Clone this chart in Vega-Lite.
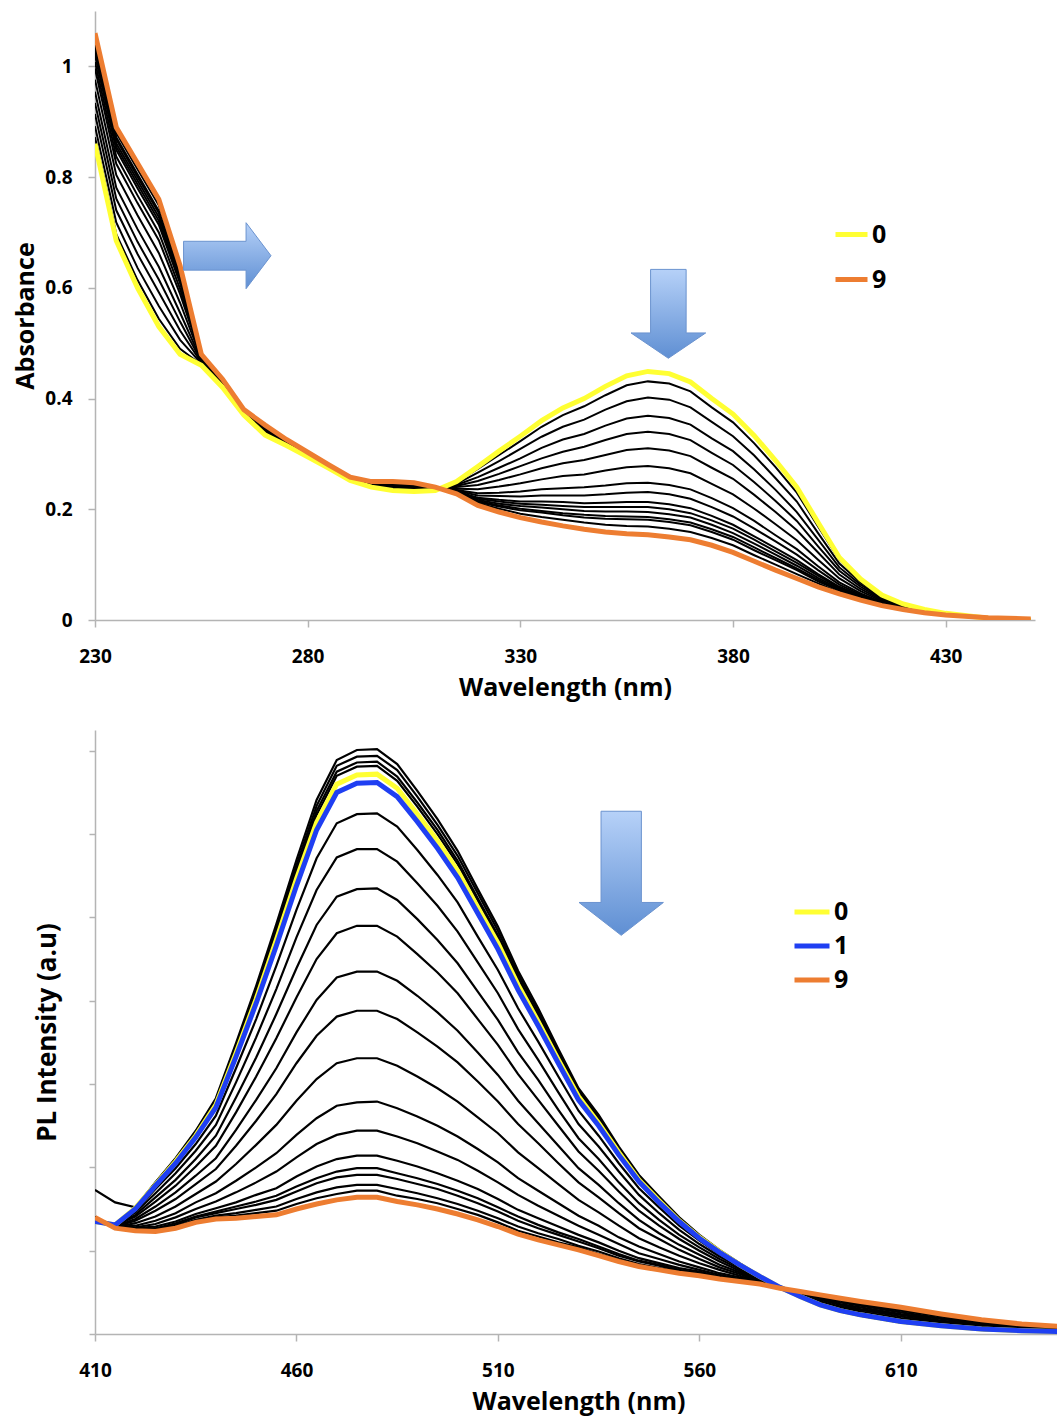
{
"$schema":"https://vega.github.io/schema/vega-lite/v6.json",
"background":"white",
"padding":{"left":13,"top":11,"right":0,"bottom":14},
"spacing":110,
"bounds":"flush",
"resolve":{"scale":{"color":"independent"},"legend":{"color":"independent"}},
"config":{"view":{"stroke":null},"font":"Open Sans",
"axis":{"domainColor":"#b4b4b4","domainWidth":1.5,"tickColor":"#b4b4b4","tickWidth":1.5,"tickSize":7,"grid":false,"labelFont":"Open Sans","labelFontWeight":"bold","labelFontSize":19,"labelColor":"#000","titleFont":"Open Sans","titleFontWeight":"bold","titleFontSize":25,"titleColor":"#000","labelFlush":false},
"legend":{"orient":"none","symbolType":"stroke","symbolStrokeWidth":5,"labelFont":"Open Sans","labelFontWeight":"bold","labelFontSize":25,"labelColor":"#000","labelOffset":2,"padding":0}},
"datasets":{
"tb":[
{"c":1,"w":230,"a":0.872},{"c":2,"w":230,"a":0.892},{"c":3,"w":230,"a":0.914},{"c":4,"w":230,"a":0.934},{"c":5,"w":230,"a":0.954},{"c":6,"w":230,"a":0.976},{"c":7,"w":230,"a":0.996},{"c":8,"w":230,"a":1.008},{"c":9,"w":230,"a":1.02},{"c":10,"w":230,"a":1.026},{"c":11,"w":230,"a":1.032},{"c":12,"w":230,"a":1.038},{"c":13,"w":230,"a":1.042},{"c":14,"w":230,"a":1.05},
{"c":1,"w":235,"a":0.697},{"c":2,"w":235,"a":0.718},{"c":3,"w":235,"a":0.74},{"c":4,"w":235,"a":0.761},{"c":5,"w":235,"a":0.781},{"c":6,"w":235,"a":0.804},{"c":7,"w":235,"a":0.824},{"c":8,"w":235,"a":0.837},{"c":9,"w":235,"a":0.849},{"c":10,"w":235,"a":0.855},{"c":11,"w":235,"a":0.861},{"c":12,"w":235,"a":0.868},{"c":13,"w":235,"a":0.872},{"c":14,"w":235,"a":0.88},
{"c":1,"w":240,"a":0.614},{"c":2,"w":240,"a":0.636},{"c":3,"w":240,"a":0.661},{"c":4,"w":240,"a":0.683},{"c":5,"w":240,"a":0.706},{"c":6,"w":240,"a":0.731},{"c":7,"w":240,"a":0.753},{"c":8,"w":240,"a":0.767},{"c":9,"w":240,"a":0.78},{"c":10,"w":240,"a":0.787},{"c":11,"w":240,"a":0.794},{"c":12,"w":240,"a":0.8},{"c":13,"w":240,"a":0.805},{"c":14,"w":240,"a":0.814},
{"c":1,"w":245,"a":0.544},{"c":2,"w":245,"a":0.567},{"c":3,"w":245,"a":0.592},{"c":4,"w":245,"a":0.615},{"c":5,"w":245,"a":0.638},{"c":6,"w":245,"a":0.663},{"c":7,"w":245,"a":0.686},{"c":8,"w":245,"a":0.7},{"c":9,"w":245,"a":0.714},{"c":10,"w":245,"a":0.721},{"c":11,"w":245,"a":0.728},{"c":12,"w":245,"a":0.735},{"c":13,"w":245,"a":0.739},{"c":14,"w":245,"a":0.749},
{"c":1,"w":250,"a":0.49},{"c":2,"w":250,"a":0.506},{"c":3,"w":250,"a":0.523},{"c":4,"w":250,"a":0.539},{"c":5,"w":250,"a":0.555},{"c":6,"w":250,"a":0.573},{"c":7,"w":250,"a":0.589},{"c":8,"w":250,"a":0.598},{"c":9,"w":250,"a":0.608},{"c":10,"w":250,"a":0.613},{"c":11,"w":250,"a":0.618},{"c":12,"w":250,"a":0.622},{"c":13,"w":250,"a":0.626},{"c":14,"w":250,"a":0.632},
{"c":1,"w":255,"a":0.461},{"c":2,"w":255,"a":0.463},{"c":3,"w":255,"a":0.465},{"c":4,"w":255,"a":0.467},{"c":5,"w":255,"a":0.469},{"c":6,"w":255,"a":0.472},{"c":7,"w":255,"a":0.474},{"c":8,"w":255,"a":0.475},{"c":9,"w":255,"a":0.476},{"c":10,"w":255,"a":0.477},{"c":11,"w":255,"a":0.477},{"c":12,"w":255,"a":0.478},{"c":13,"w":255,"a":0.478},{"c":14,"w":255,"a":0.479},
{"c":1,"w":260,"a":0.421},{"c":2,"w":260,"a":0.422},{"c":3,"w":260,"a":0.424},{"c":4,"w":260,"a":0.426},{"c":5,"w":260,"a":0.427},{"c":6,"w":260,"a":0.429},{"c":7,"w":260,"a":0.43},{"c":8,"w":260,"a":0.431},{"c":9,"w":260,"a":0.432},{"c":10,"w":260,"a":0.432},{"c":11,"w":260,"a":0.433},{"c":12,"w":260,"a":0.433},{"c":13,"w":260,"a":0.434},{"c":14,"w":260,"a":0.434},
{"c":1,"w":265,"a":0.371},{"c":2,"w":265,"a":0.372},{"c":3,"w":265,"a":0.373},{"c":4,"w":265,"a":0.374},{"c":5,"w":265,"a":0.375},{"c":6,"w":265,"a":0.376},{"c":7,"w":265,"a":0.377},{"c":8,"w":265,"a":0.377},{"c":9,"w":265,"a":0.378},{"c":10,"w":265,"a":0.378},{"c":11,"w":265,"a":0.379},{"c":12,"w":265,"a":0.379},{"c":13,"w":265,"a":0.379},{"c":14,"w":265,"a":0.38},
{"c":1,"w":270,"a":0.335},{"c":2,"w":270,"a":0.337},{"c":3,"w":270,"a":0.339},{"c":4,"w":270,"a":0.341},{"c":5,"w":270,"a":0.342},{"c":6,"w":270,"a":0.344},{"c":7,"w":270,"a":0.346},{"c":8,"w":270,"a":0.347},{"c":9,"w":270,"a":0.348},{"c":10,"w":270,"a":0.349},{"c":11,"w":270,"a":0.349},{"c":12,"w":270,"a":0.35},{"c":13,"w":270,"a":0.35},{"c":14,"w":270,"a":0.351},
{"c":1,"w":275,"a":0.316},{"c":2,"w":275,"a":0.317},{"c":3,"w":275,"a":0.318},{"c":4,"w":275,"a":0.319},{"c":5,"w":275,"a":0.32},{"c":6,"w":275,"a":0.321},{"c":7,"w":275,"a":0.322},{"c":8,"w":275,"a":0.323},{"c":9,"w":275,"a":0.324},{"c":10,"w":275,"a":0.324},{"c":11,"w":275,"a":0.324},{"c":12,"w":275,"a":0.325},{"c":13,"w":275,"a":0.325},{"c":14,"w":275,"a":0.325},
{"c":1,"w":280,"a":0.295},{"c":2,"w":280,"a":0.296},{"c":3,"w":280,"a":0.297},{"c":4,"w":280,"a":0.298},{"c":5,"w":280,"a":0.299},{"c":6,"w":280,"a":0.3},{"c":7,"w":280,"a":0.3},{"c":8,"w":280,"a":0.301},{"c":9,"w":280,"a":0.301},{"c":10,"w":280,"a":0.302},{"c":11,"w":280,"a":0.302},{"c":12,"w":280,"a":0.302},{"c":13,"w":280,"a":0.302},{"c":14,"w":280,"a":0.303},
{"c":1,"w":285,"a":0.274},{"c":2,"w":285,"a":0.275},{"c":3,"w":285,"a":0.276},{"c":4,"w":285,"a":0.276},{"c":5,"w":285,"a":0.277},{"c":6,"w":285,"a":0.277},{"c":7,"w":285,"a":0.278},{"c":8,"w":285,"a":0.278},{"c":9,"w":285,"a":0.279},{"c":10,"w":285,"a":0.279},{"c":11,"w":285,"a":0.279},{"c":12,"w":285,"a":0.279},{"c":13,"w":285,"a":0.279},{"c":14,"w":285,"a":0.28},
{"c":1,"w":290,"a":0.252},{"c":2,"w":290,"a":0.253},{"c":3,"w":290,"a":0.254},{"c":4,"w":290,"a":0.254},{"c":5,"w":290,"a":0.255},{"c":6,"w":290,"a":0.255},{"c":7,"w":290,"a":0.256},{"c":8,"w":290,"a":0.256},{"c":9,"w":290,"a":0.257},{"c":10,"w":290,"a":0.257},{"c":11,"w":290,"a":0.257},{"c":12,"w":290,"a":0.257},{"c":13,"w":290,"a":0.257},{"c":14,"w":290,"a":0.258},
{"c":1,"w":295,"a":0.241},{"c":2,"w":295,"a":0.242},{"c":3,"w":295,"a":0.243},{"c":4,"w":295,"a":0.244},{"c":5,"w":295,"a":0.245},{"c":6,"w":295,"a":0.246},{"c":7,"w":295,"a":0.247},{"c":8,"w":295,"a":0.247},{"c":9,"w":295,"a":0.248},{"c":10,"w":295,"a":0.248},{"c":11,"w":295,"a":0.249},{"c":12,"w":295,"a":0.249},{"c":13,"w":295,"a":0.249},{"c":14,"w":295,"a":0.25},
{"c":1,"w":300,"a":0.235},{"c":2,"w":300,"a":0.237},{"c":3,"w":300,"a":0.238},{"c":4,"w":300,"a":0.24},{"c":5,"w":300,"a":0.242},{"c":6,"w":300,"a":0.243},{"c":7,"w":300,"a":0.245},{"c":8,"w":300,"a":0.246},{"c":9,"w":300,"a":0.247},{"c":10,"w":300,"a":0.247},{"c":11,"w":300,"a":0.248},{"c":12,"w":300,"a":0.248},{"c":13,"w":300,"a":0.249},{"c":14,"w":300,"a":0.249},
{"c":1,"w":305,"a":0.233},{"c":2,"w":305,"a":0.235},{"c":3,"w":305,"a":0.236},{"c":4,"w":305,"a":0.238},{"c":5,"w":305,"a":0.24},{"c":6,"w":305,"a":0.241},{"c":7,"w":305,"a":0.243},{"c":8,"w":305,"a":0.244},{"c":9,"w":305,"a":0.245},{"c":10,"w":305,"a":0.245},{"c":11,"w":305,"a":0.246},{"c":12,"w":305,"a":0.246},{"c":13,"w":305,"a":0.247},{"c":14,"w":305,"a":0.247},
{"c":1,"w":310,"a":0.234},{"c":2,"w":310,"a":0.235},{"c":3,"w":310,"a":0.236},{"c":4,"w":310,"a":0.236},{"c":5,"w":310,"a":0.237},{"c":6,"w":310,"a":0.237},{"c":7,"w":310,"a":0.238},{"c":8,"w":310,"a":0.238},{"c":9,"w":310,"a":0.239},{"c":10,"w":310,"a":0.239},{"c":11,"w":310,"a":0.239},{"c":12,"w":310,"a":0.239},{"c":13,"w":310,"a":0.239},{"c":14,"w":310,"a":0.24},
{"c":1,"w":315,"a":0.249},{"c":2,"w":315,"a":0.246},{"c":3,"w":315,"a":0.244},{"c":4,"w":315,"a":0.242},{"c":5,"w":315,"a":0.24},{"c":6,"w":315,"a":0.237},{"c":7,"w":315,"a":0.235},{"c":8,"w":315,"a":0.234},{"c":9,"w":315,"a":0.232},{"c":10,"w":315,"a":0.232},{"c":11,"w":315,"a":0.231},{"c":12,"w":315,"a":0.23},{"c":13,"w":315,"a":0.23},{"c":14,"w":315,"a":0.229},
{"c":1,"w":320,"a":0.273},{"c":2,"w":320,"a":0.266},{"c":3,"w":320,"a":0.258},{"c":4,"w":320,"a":0.251},{"c":5,"w":320,"a":0.244},{"c":6,"w":320,"a":0.236},{"c":7,"w":320,"a":0.229},{"c":8,"w":320,"a":0.225},{"c":9,"w":320,"a":0.221},{"c":10,"w":320,"a":0.219},{"c":11,"w":320,"a":0.217},{"c":12,"w":320,"a":0.215},{"c":13,"w":320,"a":0.213},{"c":14,"w":320,"a":0.211},
{"c":1,"w":325,"a":0.298},{"c":2,"w":325,"a":0.287},{"c":3,"w":325,"a":0.275},{"c":4,"w":325,"a":0.264},{"c":5,"w":325,"a":0.253},{"c":6,"w":325,"a":0.241},{"c":7,"w":325,"a":0.23},{"c":8,"w":325,"a":0.224},{"c":9,"w":325,"a":0.217},{"c":10,"w":325,"a":0.214},{"c":11,"w":325,"a":0.21},{"c":12,"w":325,"a":0.207},{"c":13,"w":325,"a":0.205},{"c":14,"w":325,"a":0.201},
{"c":1,"w":330,"a":0.323},{"c":2,"w":330,"a":0.309},{"c":3,"w":330,"a":0.292},{"c":4,"w":330,"a":0.278},{"c":5,"w":330,"a":0.263},{"c":6,"w":330,"a":0.247},{"c":7,"w":330,"a":0.232},{"c":8,"w":330,"a":0.223},{"c":9,"w":330,"a":0.214},{"c":10,"w":330,"a":0.21},{"c":11,"w":330,"a":0.206},{"c":12,"w":330,"a":0.201},{"c":13,"w":330,"a":0.198},{"c":14,"w":330,"a":0.192},
{"c":1,"w":335,"a":0.349},{"c":2,"w":335,"a":0.331},{"c":3,"w":335,"a":0.311},{"c":4,"w":335,"a":0.292},{"c":5,"w":335,"a":0.274},{"c":6,"w":335,"a":0.254},{"c":7,"w":335,"a":0.236},{"c":8,"w":335,"a":0.225},{"c":9,"w":335,"a":0.214},{"c":10,"w":335,"a":0.208},{"c":11,"w":335,"a":0.203},{"c":12,"w":335,"a":0.197},{"c":13,"w":335,"a":0.194},{"c":14,"w":335,"a":0.186},
{"c":1,"w":340,"a":0.37},{"c":2,"w":340,"a":0.349},{"c":3,"w":340,"a":0.326},{"c":4,"w":340,"a":0.304},{"c":5,"w":340,"a":0.283},{"c":6,"w":340,"a":0.26},{"c":7,"w":340,"a":0.238},{"c":8,"w":340,"a":0.225},{"c":9,"w":340,"a":0.213},{"c":10,"w":340,"a":0.206},{"c":11,"w":340,"a":0.2},{"c":12,"w":340,"a":0.193},{"c":13,"w":340,"a":0.189},{"c":14,"w":340,"a":0.181},
{"c":1,"w":345,"a":0.386},{"c":2,"w":345,"a":0.362},{"c":3,"w":345,"a":0.336},{"c":4,"w":345,"a":0.313},{"c":5,"w":345,"a":0.289},{"c":6,"w":345,"a":0.263},{"c":7,"w":345,"a":0.24},{"c":8,"w":345,"a":0.225},{"c":9,"w":345,"a":0.211},{"c":10,"w":345,"a":0.204},{"c":11,"w":345,"a":0.197},{"c":12,"w":345,"a":0.19},{"c":13,"w":345,"a":0.185},{"c":14,"w":345,"a":0.176},
{"c":1,"w":350,"a":0.406},{"c":2,"w":350,"a":0.38},{"c":3,"w":350,"a":0.351},{"c":4,"w":350,"a":0.325},{"c":5,"w":350,"a":0.298},{"c":6,"w":350,"a":0.27},{"c":7,"w":350,"a":0.243},{"c":8,"w":350,"a":0.227},{"c":9,"w":350,"a":0.212},{"c":10,"w":350,"a":0.204},{"c":11,"w":350,"a":0.196},{"c":12,"w":350,"a":0.188},{"c":13,"w":350,"a":0.183},{"c":14,"w":350,"a":0.172},
{"c":1,"w":355,"a":0.424},{"c":2,"w":355,"a":0.395},{"c":3,"w":355,"a":0.364},{"c":4,"w":355,"a":0.336},{"c":5,"w":355,"a":0.307},{"c":6,"w":355,"a":0.276},{"c":7,"w":355,"a":0.247},{"c":8,"w":355,"a":0.23},{"c":9,"w":355,"a":0.213},{"c":10,"w":355,"a":0.204},{"c":11,"w":355,"a":0.196},{"c":12,"w":355,"a":0.187},{"c":13,"w":355,"a":0.182},{"c":14,"w":355,"a":0.17},
{"c":1,"w":360,"a":0.431},{"c":2,"w":360,"a":0.402},{"c":3,"w":360,"a":0.369},{"c":4,"w":360,"a":0.34},{"c":5,"w":360,"a":0.31},{"c":6,"w":360,"a":0.278},{"c":7,"w":360,"a":0.248},{"c":8,"w":360,"a":0.231},{"c":9,"w":360,"a":0.213},{"c":10,"w":360,"a":0.204},{"c":11,"w":360,"a":0.195},{"c":12,"w":360,"a":0.186},{"c":13,"w":360,"a":0.181},{"c":14,"w":360,"a":0.169},
{"c":1,"w":365,"a":0.427},{"c":2,"w":365,"a":0.398},{"c":3,"w":365,"a":0.365},{"c":4,"w":365,"a":0.336},{"c":5,"w":365,"a":0.306},{"c":6,"w":365,"a":0.274},{"c":7,"w":365,"a":0.244},{"c":8,"w":365,"a":0.227},{"c":9,"w":365,"a":0.209},{"c":10,"w":365,"a":0.2},{"c":11,"w":365,"a":0.191},{"c":12,"w":365,"a":0.182},{"c":13,"w":365,"a":0.177},{"c":14,"w":365,"a":0.165},
{"c":1,"w":370,"a":0.413},{"c":2,"w":370,"a":0.384},{"c":3,"w":370,"a":0.353},{"c":4,"w":370,"a":0.325},{"c":5,"w":370,"a":0.296},{"c":6,"w":370,"a":0.265},{"c":7,"w":370,"a":0.236},{"c":8,"w":370,"a":0.219},{"c":9,"w":370,"a":0.202},{"c":10,"w":370,"a":0.193},{"c":11,"w":370,"a":0.185},{"c":12,"w":370,"a":0.176},{"c":13,"w":370,"a":0.171},{"c":14,"w":370,"a":0.159},
{"c":1,"w":375,"a":0.384},{"c":2,"w":375,"a":0.358},{"c":3,"w":375,"a":0.328},{"c":4,"w":375,"a":0.302},{"c":5,"w":375,"a":0.275},{"c":6,"w":375,"a":0.246},{"c":7,"w":375,"a":0.22},{"c":8,"w":375,"a":0.204},{"c":9,"w":375,"a":0.188},{"c":10,"w":375,"a":0.18},{"c":11,"w":375,"a":0.172},{"c":12,"w":375,"a":0.164},{"c":13,"w":375,"a":0.159},{"c":14,"w":375,"a":0.148},
{"c":1,"w":380,"a":0.357},{"c":2,"w":380,"a":0.332},{"c":3,"w":380,"a":0.305},{"c":4,"w":380,"a":0.28},{"c":5,"w":380,"a":0.255},{"c":6,"w":380,"a":0.227},{"c":7,"w":380,"a":0.202},{"c":8,"w":380,"a":0.187},{"c":9,"w":380,"a":0.172},{"c":10,"w":380,"a":0.165},{"c":11,"w":380,"a":0.157},{"c":12,"w":380,"a":0.15},{"c":13,"w":380,"a":0.145},{"c":14,"w":380,"a":0.135},
{"c":1,"w":385,"a":0.319},{"c":2,"w":385,"a":0.297},{"c":3,"w":385,"a":0.272},{"c":4,"w":385,"a":0.249},{"c":5,"w":385,"a":0.226},{"c":6,"w":385,"a":0.201},{"c":7,"w":385,"a":0.179},{"c":8,"w":385,"a":0.165},{"c":9,"w":385,"a":0.151},{"c":10,"w":385,"a":0.145},{"c":11,"w":385,"a":0.138},{"c":12,"w":385,"a":0.131},{"c":13,"w":385,"a":0.126},{"c":14,"w":385,"a":0.117},
{"c":1,"w":390,"a":0.276},{"c":2,"w":390,"a":0.256},{"c":3,"w":390,"a":0.235},{"c":4,"w":390,"a":0.215},{"c":5,"w":390,"a":0.195},{"c":6,"w":390,"a":0.173},{"c":7,"w":390,"a":0.153},{"c":8,"w":390,"a":0.142},{"c":9,"w":390,"a":0.13},{"c":10,"w":390,"a":0.124},{"c":11,"w":390,"a":0.118},{"c":12,"w":390,"a":0.112},{"c":13,"w":390,"a":0.108},{"c":14,"w":390,"a":0.1},
{"c":1,"w":395,"a":0.23},{"c":2,"w":395,"a":0.214},{"c":3,"w":395,"a":0.195},{"c":4,"w":395,"a":0.179},{"c":5,"w":395,"a":0.162},{"c":6,"w":395,"a":0.144},{"c":7,"w":395,"a":0.128},{"c":8,"w":395,"a":0.118},{"c":9,"w":395,"a":0.108},{"c":10,"w":395,"a":0.103},{"c":11,"w":395,"a":0.098},{"c":12,"w":395,"a":0.093},{"c":13,"w":395,"a":0.09},{"c":14,"w":395,"a":0.083},
{"c":1,"w":400,"a":0.169},{"c":2,"w":400,"a":0.157},{"c":3,"w":400,"a":0.145},{"c":4,"w":400,"a":0.133},{"c":5,"w":400,"a":0.122},{"c":6,"w":400,"a":0.109},{"c":7,"w":400,"a":0.097},{"c":8,"w":400,"a":0.09},{"c":9,"w":400,"a":0.083},{"c":10,"w":400,"a":0.08},{"c":11,"w":400,"a":0.076},{"c":12,"w":400,"a":0.073},{"c":13,"w":400,"a":0.07},{"c":14,"w":400,"a":0.066},
{"c":1,"w":405,"a":0.109},{"c":2,"w":405,"a":0.102},{"c":3,"w":405,"a":0.095},{"c":4,"w":405,"a":0.089},{"c":5,"w":405,"a":0.082},{"c":6,"w":405,"a":0.075},{"c":7,"w":405,"a":0.068},{"c":8,"w":405,"a":0.064},{"c":9,"w":405,"a":0.06},{"c":10,"w":405,"a":0.058},{"c":11,"w":405,"a":0.056},{"c":12,"w":405,"a":0.054},{"c":13,"w":405,"a":0.053},{"c":14,"w":405,"a":0.05},
{"c":1,"w":410,"a":0.072},{"c":2,"w":410,"a":0.068},{"c":3,"w":410,"a":0.064},{"c":4,"w":410,"a":0.06},{"c":5,"w":410,"a":0.056},{"c":6,"w":410,"a":0.052},{"c":7,"w":410,"a":0.048},{"c":8,"w":410,"a":0.046},{"c":9,"w":410,"a":0.044},{"c":10,"w":410,"a":0.043},{"c":11,"w":410,"a":0.041},{"c":12,"w":410,"a":0.04},{"c":13,"w":410,"a":0.039},{"c":14,"w":410,"a":0.038},
{"c":1,"w":415,"a":0.044},{"c":2,"w":415,"a":0.042},{"c":3,"w":415,"a":0.04},{"c":4,"w":415,"a":0.038},{"c":5,"w":415,"a":0.036},{"c":6,"w":415,"a":0.034},{"c":7,"w":415,"a":0.032},{"c":8,"w":415,"a":0.031},{"c":9,"w":415,"a":0.03},{"c":10,"w":415,"a":0.029},{"c":11,"w":415,"a":0.029},{"c":12,"w":415,"a":0.028},{"c":13,"w":415,"a":0.028},{"c":14,"w":415,"a":0.027},
{"c":1,"w":420,"a":0.028},{"c":2,"w":420,"a":0.027},{"c":3,"w":420,"a":0.026},{"c":4,"w":420,"a":0.025},{"c":5,"w":420,"a":0.024},{"c":6,"w":420,"a":0.023},{"c":7,"w":420,"a":0.022},{"c":8,"w":420,"a":0.022},{"c":9,"w":420,"a":0.021},{"c":10,"w":420,"a":0.021},{"c":11,"w":420,"a":0.02},{"c":12,"w":420,"a":0.02},{"c":13,"w":420,"a":0.02},{"c":14,"w":420,"a":0.02},
{"c":1,"w":425,"a":0.019},{"c":2,"w":425,"a":0.018},{"c":3,"w":425,"a":0.017},{"c":4,"w":425,"a":0.017},{"c":5,"w":425,"a":0.016},{"c":6,"w":425,"a":0.016},{"c":7,"w":425,"a":0.015},{"c":8,"w":425,"a":0.015},{"c":9,"w":425,"a":0.014},{"c":10,"w":425,"a":0.014},{"c":11,"w":425,"a":0.014},{"c":12,"w":425,"a":0.014},{"c":13,"w":425,"a":0.014},{"c":14,"w":425,"a":0.013},
{"c":1,"w":430,"a":0.012},{"c":2,"w":430,"a":0.012},{"c":3,"w":430,"a":0.011},{"c":4,"w":430,"a":0.011},{"c":5,"w":430,"a":0.011},{"c":6,"w":430,"a":0.01},{"c":7,"w":430,"a":0.01},{"c":8,"w":430,"a":0.01},{"c":9,"w":430,"a":0.01},{"c":10,"w":430,"a":0.01},{"c":11,"w":430,"a":0.009},{"c":12,"w":430,"a":0.009},{"c":13,"w":430,"a":0.009},{"c":14,"w":430,"a":0.009},
{"c":1,"w":440,"a":0.003},{"c":2,"w":440,"a":0.003},{"c":3,"w":440,"a":0.003},{"c":4,"w":440,"a":0.003},{"c":5,"w":440,"a":0.003},{"c":6,"w":440,"a":0.004},{"c":7,"w":440,"a":0.004},{"c":8,"w":440,"a":0.004},{"c":9,"w":440,"a":0.004},{"c":10,"w":440,"a":0.004},{"c":11,"w":440,"a":0.004},{"c":12,"w":440,"a":0.004},{"c":13,"w":440,"a":0.004},{"c":14,"w":440,"a":0.004},
{"c":1,"w":450,"a":0},{"c":2,"w":450,"a":0},{"c":3,"w":450,"a":0.001},{"c":4,"w":450,"a":0.001},{"c":5,"w":450,"a":0.001},{"c":6,"w":450,"a":0.001},{"c":7,"w":450,"a":0.001},{"c":8,"w":450,"a":0.001},{"c":9,"w":450,"a":0.002},{"c":10,"w":450,"a":0.002},{"c":11,"w":450,"a":0.002},{"c":12,"w":450,"a":0.002},{"c":13,"w":450,"a":0.002},{"c":14,"w":450,"a":0.002}
],
"tc":[
{"c":"0","w":230,"a":0.86},{"c":"0","w":235,"a":0.685},{"c":"0","w":240,"a":0.6},{"c":"0","w":245,"a":0.53},{"c":"0","w":250,"a":0.48},{"c":"0","w":255,"a":0.46},{"c":"0","w":260,"a":0.42},{"c":"0","w":265,"a":0.37},{"c":"0","w":270,"a":0.334},{"c":"0","w":275,"a":0.315},{"c":"0","w":280,"a":0.295},{"c":"0","w":285,"a":0.274},{"c":"0","w":290,"a":0.252},{"c":"0","w":295,"a":0.24},{"c":"0","w":300,"a":0.234},{"c":"0","w":305,"a":0.232},{"c":"0","w":310,"a":0.234},{"c":"0","w":315,"a":0.25},{"c":"0","w":320,"a":0.277},{"c":"0","w":325,"a":0.305},{"c":"0","w":330,"a":0.332},{"c":"0","w":335,"a":0.36},{"c":"0","w":340,"a":0.383},{"c":"0","w":345,"a":0.4},{"c":"0","w":350,"a":0.422},{"c":"0","w":355,"a":0.441},{"c":"0","w":360,"a":0.449},{"c":"0","w":365,"a":0.445},{"c":"0","w":370,"a":0.43},{"c":"0","w":375,"a":0.4},{"c":"0","w":380,"a":0.372},{"c":"0","w":385,"a":0.333},{"c":"0","w":390,"a":0.288},{"c":"0","w":395,"a":0.24},{"c":"0","w":400,"a":0.176},{"c":"0","w":405,"a":0.113},{"c":"0","w":410,"a":0.074},{"c":"0","w":415,"a":0.045},{"c":"0","w":420,"a":0.029},{"c":"0","w":425,"a":0.019},{"c":"0","w":430,"a":0.012},{"c":"0","w":440,"a":0.003},{"c":"0","w":450,"a":0},
{"c":"9","w":230,"a":1.06},{"c":"9","w":235,"a":0.89},{"c":"9","w":240,"a":0.825},{"c":"9","w":245,"a":0.76},{"c":"9","w":250,"a":0.64},{"c":"9","w":255,"a":0.48},{"c":"9","w":260,"a":0.435},{"c":"9","w":265,"a":0.38},{"c":"9","w":270,"a":0.352},{"c":"9","w":275,"a":0.326},{"c":"9","w":280,"a":0.303},{"c":"9","w":285,"a":0.28},{"c":"9","w":290,"a":0.258},{"c":"9","w":295,"a":0.25},{"c":"9","w":300,"a":0.25},{"c":"9","w":305,"a":0.248},{"c":"9","w":310,"a":0.24},{"c":"9","w":315,"a":0.228},{"c":"9","w":320,"a":0.207},{"c":"9","w":325,"a":0.195},{"c":"9","w":330,"a":0.185},{"c":"9","w":335,"a":0.177},{"c":"9","w":340,"a":0.17},{"c":"9","w":345,"a":0.164},{"c":"9","w":350,"a":0.159},{"c":"9","w":355,"a":0.156},{"c":"9","w":360,"a":0.154},{"c":"9","w":365,"a":0.15},{"c":"9","w":370,"a":0.145},{"c":"9","w":375,"a":0.135},{"c":"9","w":380,"a":0.122},{"c":"9","w":385,"a":0.106},{"c":"9","w":390,"a":0.09},{"c":"9","w":395,"a":0.075},{"c":"9","w":400,"a":0.06},{"c":"9","w":405,"a":0.047},{"c":"9","w":410,"a":0.036},{"c":"9","w":415,"a":0.026},{"c":"9","w":420,"a":0.019},{"c":"9","w":425,"a":0.013},{"c":"9","w":430,"a":0.009},{"c":"9","w":440,"a":0.004},{"c":"9","w":450,"a":0.002}
],
"bb":[
{"c":1,"w":410,"i":173},{"c":2,"w":410,"i":135},{"c":3,"w":410,"i":135},{"c":4,"w":410,"i":135},{"c":5,"w":410,"i":135},{"c":6,"w":410,"i":136},{"c":7,"w":410,"i":136},{"c":8,"w":410,"i":137},{"c":9,"w":410,"i":137},{"c":10,"w":410,"i":138},{"c":11,"w":410,"i":138},{"c":12,"w":410,"i":139},{"c":13,"w":410,"i":139},{"c":14,"w":410,"i":140},{"c":15,"w":410,"i":140},{"c":16,"w":410,"i":140},{"c":17,"w":410,"i":140},{"c":18,"w":410,"i":140},
{"c":1,"w":415,"i":158},{"c":2,"w":415,"i":131},{"c":3,"w":415,"i":131},{"c":4,"w":415,"i":131},{"c":5,"w":415,"i":131},{"c":6,"w":415,"i":130},{"c":7,"w":415,"i":130},{"c":8,"w":415,"i":130},{"c":9,"w":415,"i":129},{"c":10,"w":415,"i":129},{"c":11,"w":415,"i":128},{"c":12,"w":415,"i":128},{"c":13,"w":415,"i":128},{"c":14,"w":415,"i":127},{"c":15,"w":415,"i":127},{"c":16,"w":415,"i":127},{"c":17,"w":415,"i":127},{"c":18,"w":415,"i":127},
{"c":1,"w":420,"i":152},{"c":2,"w":420,"i":152},{"c":3,"w":420,"i":151},{"c":4,"w":420,"i":151},{"c":5,"w":420,"i":148},{"c":6,"w":420,"i":146},{"c":7,"w":420,"i":143},{"c":8,"w":420,"i":141},{"c":9,"w":420,"i":138},{"c":10,"w":420,"i":136},{"c":11,"w":420,"i":133},{"c":12,"w":420,"i":130},{"c":13,"w":420,"i":128},{"c":14,"w":420,"i":127},{"c":15,"w":420,"i":126},{"c":16,"w":420,"i":125},{"c":17,"w":420,"i":125},{"c":18,"w":420,"i":124},
{"c":1,"w":425,"i":182},{"c":2,"w":425,"i":182},{"c":3,"w":425,"i":181},{"c":4,"w":425,"i":180},{"c":5,"w":425,"i":174},{"c":6,"w":425,"i":169},{"c":7,"w":425,"i":164},{"c":8,"w":425,"i":159},{"c":9,"w":425,"i":153},{"c":10,"w":425,"i":148},{"c":11,"w":425,"i":141},{"c":12,"w":425,"i":136},{"c":13,"w":425,"i":132},{"c":14,"w":425,"i":129},{"c":15,"w":425,"i":127},{"c":16,"w":425,"i":126},{"c":17,"w":425,"i":125},{"c":18,"w":425,"i":124},
{"c":1,"w":430,"i":211},{"c":2,"w":430,"i":210},{"c":3,"w":430,"i":209},{"c":4,"w":430,"i":208},{"c":5,"w":430,"i":199},{"c":6,"w":430,"i":193},{"c":7,"w":430,"i":185},{"c":8,"w":430,"i":178},{"c":9,"w":430,"i":170},{"c":10,"w":430,"i":162},{"c":11,"w":430,"i":153},{"c":12,"w":430,"i":145},{"c":13,"w":430,"i":140},{"c":14,"w":430,"i":135},{"c":15,"w":430,"i":133},{"c":16,"w":430,"i":131},{"c":17,"w":430,"i":129},{"c":18,"w":430,"i":128},
{"c":1,"w":435,"i":244},{"c":2,"w":435,"i":243},{"c":3,"w":435,"i":241},{"c":4,"w":435,"i":240},{"c":5,"w":435,"i":228},{"c":6,"w":435,"i":220},{"c":7,"w":435,"i":210},{"c":8,"w":435,"i":201},{"c":9,"w":435,"i":190},{"c":10,"w":435,"i":180},{"c":11,"w":435,"i":168},{"c":12,"w":435,"i":158},{"c":13,"w":435,"i":150},{"c":14,"w":435,"i":144},{"c":15,"w":435,"i":141},{"c":16,"w":435,"i":140},{"c":17,"w":435,"i":137},{"c":18,"w":435,"i":136},
{"c":1,"w":440,"i":283},{"c":2,"w":440,"i":281},{"c":3,"w":440,"i":279},{"c":4,"w":440,"i":277},{"c":5,"w":440,"i":262},{"c":6,"w":440,"i":251},{"c":7,"w":440,"i":238},{"c":8,"w":440,"i":226},{"c":9,"w":440,"i":211},{"c":10,"w":440,"i":198},{"c":11,"w":440,"i":183},{"c":12,"w":440,"i":169},{"c":13,"w":440,"i":159},{"c":14,"w":440,"i":151},{"c":15,"w":440,"i":147},{"c":16,"w":440,"i":145},{"c":17,"w":440,"i":142},{"c":18,"w":440,"i":140},
{"c":1,"w":445,"i":349},{"c":2,"w":445,"i":346},{"c":3,"w":445,"i":343},{"c":4,"w":445,"i":341},{"c":5,"w":445,"i":319},{"c":6,"w":445,"i":302},{"c":7,"w":445,"i":284},{"c":8,"w":445,"i":266},{"c":9,"w":445,"i":245},{"c":10,"w":445,"i":226},{"c":11,"w":445,"i":204},{"c":12,"w":445,"i":184},{"c":13,"w":445,"i":170},{"c":14,"w":445,"i":158},{"c":15,"w":445,"i":153},{"c":16,"w":445,"i":150},{"c":17,"w":445,"i":145},{"c":18,"w":445,"i":142},
{"c":1,"w":450,"i":418},{"c":2,"w":450,"i":414},{"c":3,"w":450,"i":410},{"c":4,"w":450,"i":407},{"c":5,"w":450,"i":378},{"c":6,"w":450,"i":356},{"c":7,"w":450,"i":332},{"c":8,"w":450,"i":309},{"c":9,"w":450,"i":281},{"c":10,"w":450,"i":256},{"c":11,"w":450,"i":227},{"c":12,"w":450,"i":200},{"c":13,"w":450,"i":182},{"c":14,"w":450,"i":167},{"c":15,"w":450,"i":159},{"c":16,"w":450,"i":155},{"c":17,"w":450,"i":149},{"c":18,"w":450,"i":145},
{"c":1,"w":455,"i":492},{"c":2,"w":455,"i":487},{"c":3,"w":455,"i":482},{"c":4,"w":455,"i":479},{"c":5,"w":455,"i":442},{"c":6,"w":455,"i":414},{"c":7,"w":455,"i":384},{"c":8,"w":455,"i":355},{"c":9,"w":455,"i":319},{"c":10,"w":455,"i":288},{"c":11,"w":455,"i":251},{"c":12,"w":455,"i":217},{"c":13,"w":455,"i":195},{"c":14,"w":455,"i":175},{"c":15,"w":455,"i":166},{"c":16,"w":455,"i":161},{"c":17,"w":455,"i":153},{"c":18,"w":455,"i":148},
{"c":1,"w":460,"i":569},{"c":2,"w":460,"i":563},{"c":3,"w":460,"i":557},{"c":4,"w":460,"i":554},{"c":5,"w":460,"i":509},{"c":6,"w":460,"i":476},{"c":7,"w":460,"i":439},{"c":8,"w":460,"i":404},{"c":9,"w":460,"i":362},{"c":10,"w":460,"i":325},{"c":11,"w":460,"i":280},{"c":12,"w":460,"i":239},{"c":13,"w":460,"i":212},{"c":14,"w":460,"i":189},{"c":15,"w":460,"i":177},{"c":16,"w":460,"i":171},{"c":17,"w":460,"i":162},{"c":18,"w":460,"i":156},
{"c":1,"w":465,"i":641},{"c":2,"w":465,"i":634},{"c":3,"w":465,"i":628},{"c":4,"w":465,"i":623},{"c":5,"w":465,"i":571},{"c":6,"w":465,"i":533},{"c":7,"w":465,"i":491},{"c":8,"w":465,"i":450},{"c":9,"w":465,"i":401},{"c":10,"w":465,"i":358},{"c":11,"w":465,"i":306},{"c":12,"w":465,"i":259},{"c":13,"w":465,"i":228},{"c":14,"w":465,"i":201},{"c":15,"w":465,"i":187},{"c":16,"w":465,"i":181},{"c":17,"w":465,"i":170},{"c":18,"w":465,"i":163},
{"c":1,"w":470,"i":689},{"c":2,"w":470,"i":682},{"c":3,"w":470,"i":675},{"c":4,"w":470,"i":670},{"c":5,"w":470,"i":613},{"c":6,"w":470,"i":572},{"c":7,"w":470,"i":525},{"c":8,"w":470,"i":481},{"c":9,"w":470,"i":428},{"c":10,"w":470,"i":381},{"c":11,"w":470,"i":325},{"c":12,"w":470,"i":274},{"c":13,"w":470,"i":239},{"c":14,"w":470,"i":210},{"c":15,"w":470,"i":195},{"c":16,"w":470,"i":188},{"c":17,"w":470,"i":176},{"c":18,"w":470,"i":168},
{"c":1,"w":475,"i":701},{"c":2,"w":475,"i":693},{"c":3,"w":475,"i":686},{"c":4,"w":475,"i":681},{"c":5,"w":475,"i":624},{"c":6,"w":475,"i":582},{"c":7,"w":475,"i":534},{"c":8,"w":475,"i":490},{"c":9,"w":475,"i":435},{"c":10,"w":475,"i":388},{"c":11,"w":475,"i":331},{"c":12,"w":475,"i":278},{"c":13,"w":475,"i":244},{"c":14,"w":475,"i":214},{"c":15,"w":475,"i":199},{"c":16,"w":475,"i":191},{"c":17,"w":475,"i":179},{"c":18,"w":475,"i":172},
{"c":1,"w":480,"i":702},{"c":2,"w":480,"i":694},{"c":3,"w":480,"i":687},{"c":4,"w":480,"i":682},{"c":5,"w":480,"i":625},{"c":6,"w":480,"i":582},{"c":7,"w":480,"i":535},{"c":8,"w":480,"i":490},{"c":9,"w":480,"i":435},{"c":10,"w":480,"i":388},{"c":11,"w":480,"i":331},{"c":12,"w":480,"i":279},{"c":13,"w":480,"i":244},{"c":14,"w":480,"i":214},{"c":15,"w":480,"i":199},{"c":16,"w":480,"i":191},{"c":17,"w":480,"i":179},{"c":18,"w":480,"i":172},
{"c":1,"w":485,"i":684},{"c":2,"w":485,"i":677},{"c":3,"w":485,"i":669},{"c":4,"w":485,"i":664},{"c":5,"w":485,"i":609},{"c":6,"w":485,"i":567},{"c":7,"w":485,"i":521},{"c":8,"w":485,"i":477},{"c":9,"w":485,"i":424},{"c":10,"w":485,"i":378},{"c":11,"w":485,"i":322},{"c":12,"w":485,"i":271},{"c":13,"w":485,"i":237},{"c":14,"w":485,"i":208},{"c":15,"w":485,"i":193},{"c":16,"w":485,"i":186},{"c":17,"w":485,"i":174},{"c":18,"w":485,"i":166},
{"c":1,"w":490,"i":652},{"c":2,"w":490,"i":645},{"c":3,"w":490,"i":638},{"c":4,"w":490,"i":633},{"c":5,"w":490,"i":581},{"c":6,"w":490,"i":541},{"c":7,"w":490,"i":498},{"c":8,"w":490,"i":456},{"c":9,"w":490,"i":406},{"c":10,"w":490,"i":362},{"c":11,"w":490,"i":309},{"c":12,"w":490,"i":261},{"c":13,"w":490,"i":229},{"c":14,"w":490,"i":201},{"c":15,"w":490,"i":187},{"c":16,"w":490,"i":180},{"c":17,"w":490,"i":169},{"c":18,"w":490,"i":162},
{"c":1,"w":495,"i":618},{"c":2,"w":495,"i":611},{"c":3,"w":495,"i":605},{"c":4,"w":495,"i":600},{"c":5,"w":495,"i":551},{"c":6,"w":495,"i":514},{"c":7,"w":495,"i":473},{"c":8,"w":495,"i":434},{"c":9,"w":495,"i":386},{"c":10,"w":495,"i":345},{"c":11,"w":495,"i":295},{"c":12,"w":495,"i":250},{"c":13,"w":495,"i":219},{"c":14,"w":495,"i":193},{"c":15,"w":495,"i":180},{"c":16,"w":495,"i":174},{"c":17,"w":495,"i":163},{"c":18,"w":495,"i":157},
{"c":1,"w":500,"i":580},{"c":2,"w":500,"i":574},{"c":3,"w":500,"i":568},{"c":4,"w":500,"i":564},{"c":5,"w":500,"i":518},{"c":6,"w":500,"i":483},{"c":7,"w":500,"i":445},{"c":8,"w":500,"i":409},{"c":9,"w":500,"i":364},{"c":10,"w":500,"i":326},{"c":11,"w":500,"i":279},{"c":12,"w":500,"i":237},{"c":13,"w":500,"i":209},{"c":14,"w":500,"i":184},{"c":15,"w":500,"i":172},{"c":16,"w":500,"i":166},{"c":17,"w":500,"i":156},{"c":18,"w":500,"i":150},
{"c":1,"w":505,"i":534},{"c":2,"w":505,"i":529},{"c":3,"w":505,"i":523},{"c":4,"w":505,"i":520},{"c":5,"w":505,"i":477},{"c":6,"w":505,"i":446},{"c":7,"w":505,"i":411},{"c":8,"w":505,"i":378},{"c":9,"w":505,"i":338},{"c":10,"w":505,"i":303},{"c":11,"w":505,"i":260},{"c":12,"w":505,"i":222},{"c":13,"w":505,"i":196},{"c":14,"w":505,"i":174},{"c":15,"w":505,"i":163},{"c":16,"w":505,"i":157},{"c":17,"w":505,"i":148},{"c":18,"w":505,"i":143},
{"c":1,"w":510,"i":489},{"c":2,"w":510,"i":484},{"c":3,"w":510,"i":479},{"c":4,"w":510,"i":475},{"c":5,"w":510,"i":437},{"c":6,"w":510,"i":409},{"c":7,"w":510,"i":377},{"c":8,"w":510,"i":347},{"c":9,"w":510,"i":311},{"c":10,"w":510,"i":279},{"c":11,"w":510,"i":241},{"c":12,"w":510,"i":206},{"c":13,"w":510,"i":182},{"c":14,"w":510,"i":162},{"c":15,"w":510,"i":152},{"c":16,"w":510,"i":147},{"c":17,"w":510,"i":139},{"c":18,"w":510,"i":134},
{"c":1,"w":515,"i":436},{"c":2,"w":515,"i":432},{"c":3,"w":515,"i":428},{"c":4,"w":515,"i":425},{"c":5,"w":515,"i":391},{"c":6,"w":515,"i":366},{"c":7,"w":515,"i":338},{"c":8,"w":515,"i":312},{"c":9,"w":515,"i":280},{"c":10,"w":515,"i":252},{"c":11,"w":515,"i":218},{"c":12,"w":515,"i":187},{"c":13,"w":515,"i":167},{"c":14,"w":515,"i":149},{"c":15,"w":515,"i":141},{"c":16,"w":515,"i":136},{"c":17,"w":515,"i":129},{"c":18,"w":515,"i":124},
{"c":1,"w":520,"i":391},{"c":2,"w":520,"i":387},{"c":3,"w":520,"i":383},{"c":4,"w":520,"i":380},{"c":5,"w":520,"i":351},{"c":6,"w":520,"i":329},{"c":7,"w":520,"i":305},{"c":8,"w":520,"i":281},{"c":9,"w":520,"i":253},{"c":10,"w":520,"i":229},{"c":11,"w":520,"i":199},{"c":12,"w":520,"i":172},{"c":13,"w":520,"i":154},{"c":14,"w":520,"i":139},{"c":15,"w":520,"i":131},{"c":16,"w":520,"i":127},{"c":17,"w":520,"i":121},{"c":18,"w":520,"i":117},
{"c":1,"w":525,"i":342},{"c":2,"w":525,"i":339},{"c":3,"w":525,"i":336},{"c":4,"w":525,"i":334},{"c":5,"w":525,"i":309},{"c":6,"w":525,"i":290},{"c":7,"w":525,"i":269},{"c":8,"w":525,"i":250},{"c":9,"w":525,"i":226},{"c":10,"w":525,"i":205},{"c":11,"w":525,"i":180},{"c":12,"w":525,"i":157},{"c":13,"w":525,"i":142},{"c":14,"w":525,"i":129},{"c":15,"w":525,"i":122},{"c":16,"w":525,"i":119},{"c":17,"w":525,"i":114},{"c":18,"w":525,"i":110},
{"c":1,"w":530,"i":295},{"c":2,"w":530,"i":293},{"c":3,"w":530,"i":290},{"c":4,"w":530,"i":288},{"c":5,"w":530,"i":268},{"c":6,"w":530,"i":252},{"c":7,"w":530,"i":235},{"c":8,"w":530,"i":219},{"c":9,"w":530,"i":199},{"c":10,"w":530,"i":182},{"c":11,"w":530,"i":161},{"c":12,"w":530,"i":142},{"c":13,"w":530,"i":130},{"c":14,"w":530,"i":119},{"c":15,"w":530,"i":114},{"c":16,"w":530,"i":111},{"c":17,"w":530,"i":106},{"c":18,"w":530,"i":104},
{"c":1,"w":535,"i":263},{"c":2,"w":535,"i":260},{"c":3,"w":535,"i":258},{"c":4,"w":535,"i":256},{"c":5,"w":535,"i":238},{"c":6,"w":535,"i":225},{"c":7,"w":535,"i":210},{"c":8,"w":535,"i":196},{"c":9,"w":535,"i":179},{"c":10,"w":535,"i":164},{"c":11,"w":535,"i":146},{"c":12,"w":535,"i":130},{"c":13,"w":535,"i":119},{"c":14,"w":535,"i":110},{"c":15,"w":535,"i":105},{"c":16,"w":535,"i":103},{"c":17,"w":535,"i":99},{"c":18,"w":535,"i":96},
{"c":1,"w":540,"i":225},{"c":2,"w":540,"i":223},{"c":3,"w":540,"i":221},{"c":4,"w":540,"i":220},{"c":5,"w":540,"i":205},{"c":6,"w":540,"i":195},{"c":7,"w":540,"i":182},{"c":8,"w":540,"i":171},{"c":9,"w":540,"i":157},{"c":10,"w":540,"i":145},{"c":11,"w":540,"i":130},{"c":12,"w":540,"i":116},{"c":13,"w":540,"i":108},{"c":14,"w":540,"i":100},{"c":15,"w":540,"i":96},{"c":16,"w":540,"i":94},{"c":17,"w":540,"i":91},{"c":18,"w":540,"i":89},
{"c":1,"w":545,"i":191},{"c":2,"w":545,"i":190},{"c":3,"w":545,"i":188},{"c":4,"w":545,"i":187},{"c":5,"w":545,"i":175},{"c":6,"w":545,"i":167},{"c":7,"w":545,"i":157},{"c":8,"w":545,"i":148},{"c":9,"w":545,"i":137},{"c":10,"w":545,"i":127},{"c":11,"w":545,"i":115},{"c":12,"w":545,"i":105},{"c":13,"w":545,"i":97},{"c":14,"w":545,"i":91},{"c":15,"w":545,"i":88},{"c":16,"w":545,"i":87},{"c":17,"w":545,"i":84},{"c":18,"w":545,"i":83},
{"c":1,"w":550,"i":165},{"c":2,"w":550,"i":163},{"c":3,"w":550,"i":162},{"c":4,"w":550,"i":161},{"c":5,"w":550,"i":152},{"c":6,"w":550,"i":145},{"c":7,"w":550,"i":137},{"c":8,"w":550,"i":130},{"c":9,"w":550,"i":121},{"c":10,"w":550,"i":114},{"c":11,"w":550,"i":104},{"c":12,"w":550,"i":96},{"c":13,"w":550,"i":90},{"c":14,"w":550,"i":85},{"c":15,"w":550,"i":83},{"c":16,"w":550,"i":82},{"c":17,"w":550,"i":79},{"c":18,"w":550,"i":78},
{"c":1,"w":555,"i":140},{"c":2,"w":555,"i":139},{"c":3,"w":555,"i":138},{"c":4,"w":555,"i":138},{"c":5,"w":555,"i":130},{"c":6,"w":555,"i":125},{"c":7,"w":555,"i":119},{"c":8,"w":555,"i":114},{"c":9,"w":555,"i":107},{"c":10,"w":555,"i":101},{"c":11,"w":555,"i":94},{"c":12,"w":555,"i":87},{"c":13,"w":555,"i":83},{"c":14,"w":555,"i":79},{"c":15,"w":555,"i":77},{"c":16,"w":555,"i":76},{"c":17,"w":555,"i":75},{"c":18,"w":555,"i":74},
{"c":1,"w":560,"i":119},{"c":2,"w":560,"i":118},{"c":3,"w":560,"i":117},{"c":4,"w":560,"i":117},{"c":5,"w":560,"i":112},{"c":6,"w":560,"i":108},{"c":7,"w":560,"i":104},{"c":8,"w":560,"i":100},{"c":9,"w":560,"i":95},{"c":10,"w":560,"i":90},{"c":11,"w":560,"i":85},{"c":12,"w":560,"i":80},{"c":13,"w":560,"i":77},{"c":14,"w":560,"i":75},{"c":15,"w":560,"i":73},{"c":16,"w":560,"i":73},{"c":17,"w":560,"i":71},{"c":18,"w":560,"i":71},
{"c":1,"w":565,"i":101},{"c":2,"w":565,"i":100},{"c":3,"w":565,"i":100},{"c":4,"w":565,"i":99},{"c":5,"w":565,"i":96},{"c":6,"w":565,"i":93},{"c":7,"w":565,"i":90},{"c":8,"w":565,"i":87},{"c":9,"w":565,"i":83},{"c":10,"w":565,"i":80},{"c":11,"w":565,"i":77},{"c":12,"w":565,"i":73},{"c":13,"w":565,"i":71},{"c":14,"w":565,"i":69},{"c":15,"w":565,"i":68},{"c":16,"w":565,"i":68},{"c":17,"w":565,"i":67},{"c":18,"w":565,"i":67},
{"c":1,"w":570,"i":85},{"c":2,"w":570,"i":84},{"c":3,"w":570,"i":84},{"c":4,"w":570,"i":84},{"c":5,"w":570,"i":82},{"c":6,"w":570,"i":80},{"c":7,"w":570,"i":78},{"c":8,"w":570,"i":76},{"c":9,"w":570,"i":74},{"c":10,"w":570,"i":72},{"c":11,"w":570,"i":70},{"c":12,"w":570,"i":68},{"c":13,"w":570,"i":66},{"c":14,"w":570,"i":65},{"c":15,"w":570,"i":64},{"c":16,"w":570,"i":64},{"c":17,"w":570,"i":64},{"c":18,"w":570,"i":63},
{"c":1,"w":575,"i":70},{"c":2,"w":575,"i":70},{"c":3,"w":575,"i":70},{"c":4,"w":575,"i":69},{"c":5,"w":575,"i":68},{"c":6,"w":575,"i":68},{"c":7,"w":575,"i":67},{"c":8,"w":575,"i":66},{"c":9,"w":575,"i":65},{"c":10,"w":575,"i":64},{"c":11,"w":575,"i":63},{"c":12,"w":575,"i":62},{"c":13,"w":575,"i":61},{"c":14,"w":575,"i":61},{"c":15,"w":575,"i":61},{"c":16,"w":575,"i":61},{"c":17,"w":575,"i":60},{"c":18,"w":575,"i":60},
{"c":1,"w":580,"i":56},{"c":2,"w":580,"i":56},{"c":3,"w":580,"i":56},{"c":4,"w":580,"i":56},{"c":5,"w":580,"i":56},{"c":6,"w":580,"i":56},{"c":7,"w":580,"i":56},{"c":8,"w":580,"i":56},{"c":9,"w":580,"i":56},{"c":10,"w":580,"i":55},{"c":11,"w":580,"i":55},{"c":12,"w":580,"i":55},{"c":13,"w":580,"i":55},{"c":14,"w":580,"i":55},{"c":15,"w":580,"i":55},{"c":16,"w":580,"i":55},{"c":17,"w":580,"i":55},{"c":18,"w":580,"i":55},
{"c":1,"w":585,"i":45},{"c":2,"w":585,"i":45},{"c":3,"w":585,"i":45},{"c":4,"w":585,"i":45},{"c":5,"w":585,"i":45},{"c":6,"w":585,"i":46},{"c":7,"w":585,"i":47},{"c":8,"w":585,"i":47},{"c":9,"w":585,"i":48},{"c":10,"w":585,"i":48},{"c":11,"w":585,"i":49},{"c":12,"w":585,"i":50},{"c":13,"w":585,"i":50},{"c":14,"w":585,"i":50},{"c":15,"w":585,"i":51},{"c":16,"w":585,"i":51},{"c":17,"w":585,"i":51},{"c":18,"w":585,"i":51},
{"c":1,"w":590,"i":34},{"c":2,"w":590,"i":34},{"c":3,"w":590,"i":34},{"c":4,"w":590,"i":35},{"c":5,"w":590,"i":36},{"c":6,"w":590,"i":37},{"c":7,"w":590,"i":38},{"c":8,"w":590,"i":39},{"c":9,"w":590,"i":41},{"c":10,"w":590,"i":42},{"c":11,"w":590,"i":43},{"c":12,"w":590,"i":44},{"c":13,"w":590,"i":45},{"c":14,"w":590,"i":46},{"c":15,"w":590,"i":46},{"c":16,"w":590,"i":46},{"c":17,"w":590,"i":47},{"c":18,"w":590,"i":47},
{"c":1,"w":595,"i":27},{"c":2,"w":595,"i":27},{"c":3,"w":595,"i":27},{"c":4,"w":595,"i":27},{"c":5,"w":595,"i":29},{"c":6,"w":595,"i":30},{"c":7,"w":595,"i":32},{"c":8,"w":595,"i":33},{"c":9,"w":595,"i":35},{"c":10,"w":595,"i":36},{"c":11,"w":595,"i":38},{"c":12,"w":595,"i":40},{"c":13,"w":595,"i":41},{"c":14,"w":595,"i":42},{"c":15,"w":595,"i":42},{"c":16,"w":595,"i":42},{"c":17,"w":595,"i":43},{"c":18,"w":595,"i":43},
{"c":1,"w":600,"i":22},{"c":2,"w":600,"i":22},{"c":3,"w":600,"i":22},{"c":4,"w":600,"i":22},{"c":5,"w":600,"i":24},{"c":6,"w":600,"i":26},{"c":7,"w":600,"i":27},{"c":8,"w":600,"i":29},{"c":9,"w":600,"i":30},{"c":10,"w":600,"i":32},{"c":11,"w":600,"i":34},{"c":12,"w":600,"i":35},{"c":13,"w":600,"i":36},{"c":14,"w":600,"i":37},{"c":15,"w":600,"i":38},{"c":16,"w":600,"i":38},{"c":17,"w":600,"i":39},{"c":18,"w":600,"i":39},
{"c":1,"w":610,"i":14},{"c":2,"w":610,"i":14},{"c":3,"w":610,"i":14},{"c":4,"w":610,"i":14},{"c":5,"w":610,"i":16},{"c":6,"w":610,"i":18},{"c":7,"w":610,"i":19},{"c":8,"w":610,"i":21},{"c":9,"w":610,"i":23},{"c":10,"w":610,"i":24},{"c":11,"w":610,"i":26},{"c":12,"w":610,"i":28},{"c":13,"w":610,"i":29},{"c":14,"w":610,"i":30},{"c":15,"w":610,"i":31},{"c":16,"w":610,"i":31},{"c":17,"w":610,"i":32},{"c":18,"w":610,"i":32},
{"c":1,"w":620,"i":9},{"c":2,"w":620,"i":9},{"c":3,"w":620,"i":9},{"c":4,"w":620,"i":9},{"c":5,"w":620,"i":11},{"c":6,"w":620,"i":12},{"c":7,"w":620,"i":14},{"c":8,"w":620,"i":15},{"c":9,"w":620,"i":16},{"c":10,"w":620,"i":18},{"c":11,"w":620,"i":19},{"c":12,"w":620,"i":21},{"c":13,"w":620,"i":22},{"c":14,"w":620,"i":23},{"c":15,"w":620,"i":23},{"c":16,"w":620,"i":23},{"c":17,"w":620,"i":24},{"c":18,"w":620,"i":24},
{"c":1,"w":630,"i":5},{"c":2,"w":630,"i":5},{"c":3,"w":630,"i":5},{"c":4,"w":630,"i":6},{"c":5,"w":630,"i":7},{"c":6,"w":630,"i":8},{"c":7,"w":630,"i":9},{"c":8,"w":630,"i":10},{"c":9,"w":630,"i":11},{"c":10,"w":630,"i":12},{"c":11,"w":630,"i":13},{"c":12,"w":630,"i":14},{"c":13,"w":630,"i":15},{"c":14,"w":630,"i":16},{"c":15,"w":630,"i":16},{"c":16,"w":630,"i":16},{"c":17,"w":630,"i":17},{"c":18,"w":630,"i":17},
{"c":1,"w":640,"i":3},{"c":2,"w":640,"i":4},{"c":3,"w":640,"i":4},{"c":4,"w":640,"i":4},{"c":5,"w":640,"i":5},{"c":6,"w":640,"i":5},{"c":7,"w":640,"i":6},{"c":8,"w":640,"i":7},{"c":9,"w":640,"i":8},{"c":10,"w":640,"i":8},{"c":11,"w":640,"i":9},{"c":12,"w":640,"i":10},{"c":13,"w":640,"i":11},{"c":14,"w":640,"i":11},{"c":15,"w":640,"i":11},{"c":16,"w":640,"i":12},{"c":17,"w":640,"i":12},{"c":18,"w":640,"i":12},
{"c":1,"w":650,"i":3},{"c":2,"w":650,"i":3},{"c":3,"w":650,"i":3},{"c":4,"w":650,"i":3},{"c":5,"w":650,"i":3},{"c":6,"w":650,"i":4},{"c":7,"w":650,"i":5},{"c":8,"w":650,"i":5},{"c":9,"w":650,"i":6},{"c":10,"w":650,"i":6},{"c":11,"w":650,"i":7},{"c":12,"w":650,"i":8},{"c":13,"w":650,"i":8},{"c":14,"w":650,"i":8},{"c":15,"w":650,"i":9},{"c":16,"w":650,"i":9},{"c":17,"w":650,"i":9},{"c":18,"w":650,"i":9}
],
"bc":[
{"c":"0","w":410,"i":135},{"c":"0","w":415,"i":131},{"c":"0","w":420,"i":151},{"c":"0","w":425,"i":179},{"c":"0","w":430,"i":207},{"c":"0","w":435,"i":238},{"c":"0","w":440,"i":275},{"c":"0","w":445,"i":337},{"c":"0","w":450,"i":402},{"c":"0","w":455,"i":473},{"c":"0","w":460,"i":546},{"c":"0","w":465,"i":614},{"c":"0","w":470,"i":660},{"c":"0","w":475,"i":671},{"c":"0","w":480,"i":672},{"c":"0","w":485,"i":655},{"c":"0","w":490,"i":624},{"c":"0","w":495,"i":592},{"c":"0","w":500,"i":556},{"c":"0","w":505,"i":512},{"c":"0","w":510,"i":469},{"c":"0","w":515,"i":419},{"c":"0","w":520,"i":375},{"c":"0","w":525,"i":329},{"c":"0","w":530,"i":285},{"c":"0","w":535,"i":253},{"c":"0","w":540,"i":218},{"c":"0","w":545,"i":185},{"c":"0","w":550,"i":160},{"c":"0","w":555,"i":136},{"c":"0","w":560,"i":116},{"c":"0","w":565,"i":99},{"c":"0","w":570,"i":83},{"c":"0","w":575,"i":69},{"c":"0","w":580,"i":56},{"c":"0","w":585,"i":45},{"c":"0","w":590,"i":35},{"c":"0","w":595,"i":28},{"c":"0","w":600,"i":23},{"c":"0","w":610,"i":15},{"c":"0","w":620,"i":10},{"c":"0","w":630,"i":6},{"c":"0","w":640,"i":4},{"c":"0","w":650,"i":3},
{"c":"1","w":410,"i":135},{"c":"1","w":415,"i":131},{"c":"1","w":420,"i":150},{"c":"1","w":425,"i":178},{"c":"1","w":430,"i":205},{"c":"1","w":435,"i":236},{"c":"1","w":440,"i":272},{"c":"1","w":445,"i":333},{"c":"1","w":450,"i":397},{"c":"1","w":455,"i":466},{"c":"1","w":460,"i":538},{"c":"1","w":465,"i":605},{"c":"1","w":470,"i":650},{"c":"1","w":475,"i":661},{"c":"1","w":480,"i":662},{"c":"1","w":485,"i":645},{"c":"1","w":490,"i":615},{"c":"1","w":495,"i":583},{"c":"1","w":500,"i":548},{"c":"1","w":505,"i":505},{"c":"1","w":510,"i":462},{"c":"1","w":515,"i":413},{"c":"1","w":520,"i":370},{"c":"1","w":525,"i":325},{"c":"1","w":530,"i":281},{"c":"1","w":535,"i":250},{"c":"1","w":540,"i":215},{"c":"1","w":545,"i":183},{"c":"1","w":550,"i":158},{"c":"1","w":555,"i":135},{"c":"1","w":560,"i":115},{"c":"1","w":565,"i":98},{"c":"1","w":570,"i":83},{"c":"1","w":575,"i":69},{"c":"1","w":580,"i":56},{"c":"1","w":585,"i":45},{"c":"1","w":590,"i":35},{"c":"1","w":595,"i":28},{"c":"1","w":600,"i":23},{"c":"1","w":610,"i":15},{"c":"1","w":620,"i":10},{"c":"1","w":630,"i":6},{"c":"1","w":640,"i":4},{"c":"1","w":650,"i":3},
{"c":"9","w":410,"i":140},{"c":"9","w":415,"i":127},{"c":"9","w":420,"i":124},{"c":"9","w":425,"i":123},{"c":"9","w":430,"i":127},{"c":"9","w":435,"i":134},{"c":"9","w":440,"i":138},{"c":"9","w":445,"i":139},{"c":"9","w":450,"i":141},{"c":"9","w":455,"i":143},{"c":"9","w":460,"i":150},{"c":"9","w":465,"i":156},{"c":"9","w":470,"i":161},{"c":"9","w":475,"i":164},{"c":"9","w":480,"i":164},{"c":"9","w":485,"i":159},{"c":"9","w":490,"i":155},{"c":"9","w":495,"i":150},{"c":"9","w":500,"i":144},{"c":"9","w":505,"i":137},{"c":"9","w":510,"i":129},{"c":"9","w":515,"i":120},{"c":"9","w":520,"i":113},{"c":"9","w":525,"i":107},{"c":"9","w":530,"i":101},{"c":"9","w":535,"i":94},{"c":"9","w":540,"i":87},{"c":"9","w":545,"i":81},{"c":"9","w":550,"i":77},{"c":"9","w":555,"i":73},{"c":"9","w":560,"i":70},{"c":"9","w":565,"i":66},{"c":"9","w":570,"i":63},{"c":"9","w":575,"i":60},{"c":"9","w":580,"i":55},{"c":"9","w":585,"i":51},{"c":"9","w":590,"i":47},{"c":"9","w":595,"i":43},{"c":"9","w":600,"i":39},{"c":"9","w":610,"i":32},{"c":"9","w":620,"i":24},{"c":"9","w":630,"i":17},{"c":"9","w":640,"i":12},{"c":"9","w":650,"i":9}
]
},
"vconcat":[
{"width":940,"height":609,
"layer":[
{"data":{"name":"tb"},"mark":{"type":"line","color":"#000","strokeWidth":2,"clip":true},
"encoding":{
"x":{"field":"w","type":"quantitative","scale":{"domain":[230,451],"nice":false,"zero":false},"axis":{"values":[230,280,330,380,430],"title":"Wavelength (nm)","labelPadding":20,"titlePadding":9}},
"y":{"field":"a","type":"quantitative","scale":{"domain":[0,1.1],"nice":false},"axis":{"values":[0,0.2,0.4,0.6,0.8,1],"format":".1~f","title":"Absorbance","labelPadding":16,"titlePadding":6}},
"detail":{"field":"c","type":"nominal"}}},
{"data":{"name":"tc"},"mark":{"type":"line","strokeWidth":5,"clip":true},
"encoding":{
"x":{"field":"w","type":"quantitative"},
"y":{"field":"a","type":"quantitative"},
"color":{"field":"c","type":"nominal","scale":{"domain":["0","9"],"range":["#ffff33","#ed7d31"]},"legend":{"title":null,"legendX":738,"legendY":205,"symbolSize":1024,"rowPadding":13}}}},
{"data":{"values":[{"w":261.1,"a":0.658}]},"mark":{"type":"point","shape":"M -1 -0.33 L 0.43 -0.33 L 0.43 -0.755 L 1 0 L 0.43 0.755 L 0.43 0.33 L -1 0.33 Z","size":7640,"filled":true,"opacity":1,"fill":{"gradient":"linear","x1":0,"y1":0,"x2":0,"y2":1,"stops":[{"offset":0,"color":"#b6d1f8"},{"offset":1,"color":"#5f8fd3"}]},"stroke":"#6b93cf","strokeWidth":1},
"encoding":{"x":{"field":"w","type":"quantitative"},"y":{"field":"a","type":"quantitative"}}},
{"data":{"values":[{"w":364.8,"a":0.553}]},"mark":{"type":"point","shape":"M -0.4 -1 L 0.4 -1 L 0.4 0.43 L 0.84 0.43 L 0 1 L -0.84 0.43 L -0.4 0.43 Z","size":7900,"filled":true,"opacity":1,"fill":{"gradient":"linear","x1":0,"y1":0,"x2":0,"y2":1,"stops":[{"offset":0,"color":"#b6d1f8"},{"offset":1,"color":"#5f8fd3"}]},"stroke":"#6b93cf","strokeWidth":1},
"encoding":{"x":{"field":"w","type":"quantitative"},"y":{"field":"a","type":"quantitative"}}}
]},
{"width":967,"height":604,
"layer":[
{"data":{"name":"bb"},"mark":{"type":"line","color":"#000","strokeWidth":2.2,"clip":true},
"encoding":{
"x":{"field":"w","type":"quantitative","scale":{"domain":[410,650],"nice":false,"zero":false},"axis":{"values":[410,460,510,560,610],"title":"Wavelength (nm)","labelPadding":20,"titlePadding":9}},
"y":{"field":"i","type":"quantitative","scale":{"domain":[0,725],"nice":false},"axis":{"values":[0,100,200,300,400,500,600,700],"labels":false,"tickSize":6,"title":"PL Intensity (a.u)","titleFontSize":26,"titlePadding":28}},
"detail":{"field":"c","type":"nominal"}}},
{"data":{"name":"bc"},"mark":{"type":"line","strokeWidth":5,"clip":true},
"encoding":{
"x":{"field":"w","type":"quantitative"},
"y":{"field":"i","type":"quantitative"},
"color":{"field":"c","type":"nominal","scale":{"domain":["0","1","9"],"range":["#ffff33","#1f3ff2","#ed7d31"]},"legend":{"title":null,"legendX":697,"legendY":162,"symbolSize":1225,"rowPadding":1}}}},
{"data":{"values":[{"w":540.6,"i":553}]},"mark":{"type":"point","shape":"M -0.325 -1 L 0.325 -1 L 0.325 0.47 L 0.68 0.47 L 0 1 L -0.68 0.47 L -0.325 0.47 Z","size":15400,"filled":true,"opacity":1,"fill":{"gradient":"linear","x1":0,"y1":0,"x2":0,"y2":1,"stops":[{"offset":0,"color":"#b6d1f8"},{"offset":1,"color":"#5f8fd3"}]},"stroke":"#6b93cf","strokeWidth":1},
"encoding":{"x":{"field":"w","type":"quantitative"},"y":{"field":"i","type":"quantitative"}}}
]}
]
}
